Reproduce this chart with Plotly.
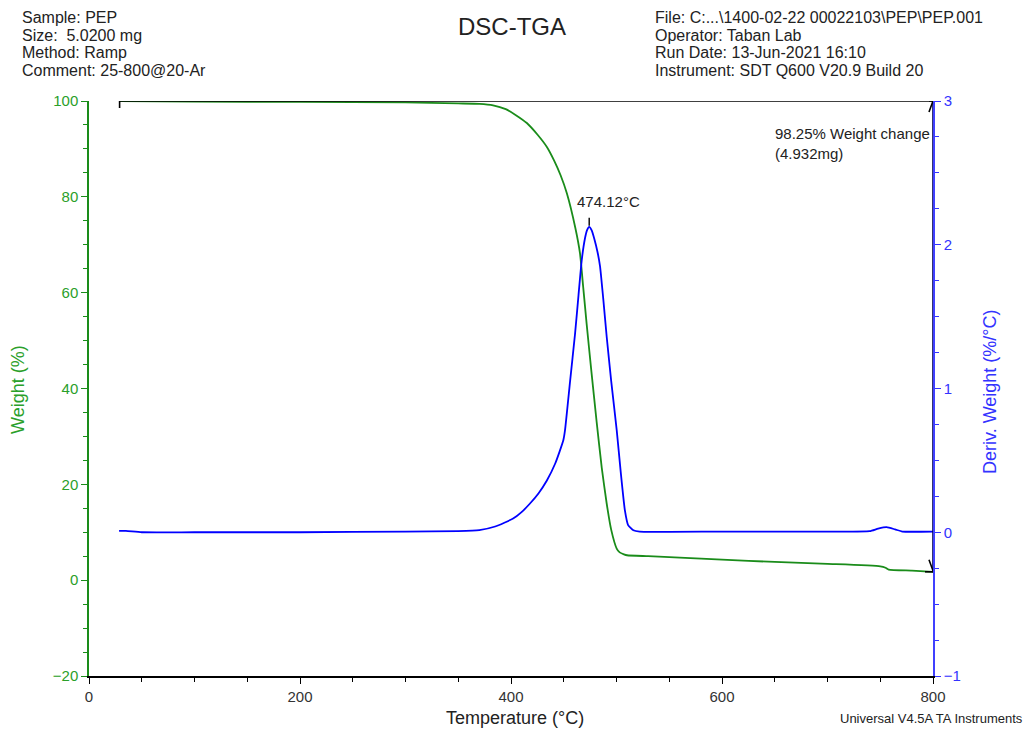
import plotly.graph_objects as go

# ---------------- data ----------------
temp_w = [29, 100, 200, 300, 350, 370, 383, 395, 405, 415, 425, 434, 441, 447, 453,
          461, 465.4, 468.5, 471.7, 476, 481.2, 486, 490.7, 495, 500.2, 503, 507,
          510, 530, 560, 600, 650, 700, 750, 755, 758, 780, 800]
weight = [100.0, 99.9, 99.8, 99.7, 99.5, 99.4, 99.1, 98.3, 97.0, 95.4, 93.0, 90.4,
          87.5, 84.5, 80.7, 73.5, 68.2, 61.0, 53.5, 44.0, 33.0, 23.5, 16.0, 10.5,
          6.6, 5.8, 5.4, 5.2, 5.0, 4.7, 4.3, 3.8, 3.4, 2.9, 2.6, 2.2, 2.0, 1.75]

temp_d = [28.5, 35, 50, 100, 200, 300, 350, 370, 385, 402, 410, 418, 426, 434, 442,
          449.6, 451.2, 456, 460.7, 464, 467, 470, 472, 474.12, 476.5, 479, 482,
          484.4, 487.5, 490.7, 495, 500.2, 504, 508, 511, 516, 522, 600, 700, 740,
          748, 756, 764, 771, 800]
deriv = [0.01, 0.01, 0.0, 0.0, 0.0, 0.005, 0.008, 0.015, 0.04, 0.095, 0.14, 0.2,
         0.27, 0.36, 0.48, 0.64, 0.71, 1.05, 1.38, 1.65, 1.89, 2.04, 2.10, 2.125,
         2.10, 2.04, 1.95, 1.85, 1.62, 1.36, 1.05, 0.71, 0.42, 0.15, 0.05, 0.014,
         0.005, 0.005, 0.005, 0.008, 0.025, 0.035, 0.02, 0.005, 0.005]

sample_mg = 5.02
x_ticks = [0, 200, 400, 600, 800]
y_ticks = [-20, 0, 20, 40, 60, 80, 100]
y2_ticks = [-1, 0, 1, 2, 3]

# ---------------- layout geometry ----------------
W, H = 1026, 729
L, R, T, B = 89, 933, 101, 676

def px(xp):
    return (xp - L) / (R - L)

def py(yp):
    return (B - yp) / (B - T)

GREEN = "#1a8c1a"
GREEN_TXT = "#2aa02a"
BLUE = "#0000ff"
BLUE_TXT = "#3333ff"
FONT = "Liberation Sans, Arial, sans-serif"

fig = go.Figure()
fig.add_trace(go.Scatter(x=temp_w, y=weight, mode="lines", yaxis="y",
                         line=dict(color=GREEN, width=1.8, shape="spline", smoothing=0.5),
                         hoverinfo="skip", showlegend=False))
fig.add_trace(go.Scatter(x=temp_d, y=deriv, mode="lines", yaxis="y2",
                         line=dict(color=BLUE, width=1.8, shape="spline", smoothing=0.5),
                         hoverinfo="skip", showlegend=False))

shapes = []
w0, w_end = weight[0], weight[-1]
t0, t_end = temp_w[0], x_ticks[-1]
black = dict(color="black", width=1.6)
# step line at initial weight
shapes.append(dict(type="line", xref="x", yref="y", x0=t0, x1=t_end, y0=w0, y1=w0, line=black))
# start tick
shapes.append(dict(type="path", xref="x", yref="y", xsizemode="pixel", ysizemode="pixel",
                   xanchor=t0, yanchor=w0, path="M0,6 L0,-7", line=black))
# vertical weight-change line
shapes.append(dict(type="line", xref="x", yref="y", x0=t_end, x1=t_end, y0=w0, y1=w_end,
                   line=dict(color="#000050", width=1.6)))
# top arrowhead + cross
shapes.append(dict(type="path", xref="x", yref="y", xsizemode="pixel", ysizemode="pixel",
                   xanchor=t_end, yanchor=w0, path="M-4,-11 L0,0 L4,-11", line=black))
shapes.append(dict(type="path", xref="x", yref="y", xsizemode="pixel", ysizemode="pixel",
                   xanchor=t_end, yanchor=w0, path="M0,6 L0,0 M-4,0 L5,0", line=black))
# bottom arrowhead + bar
shapes.append(dict(type="path", xref="x", yref="y", xsizemode="pixel", ysizemode="pixel",
                   xanchor=t_end, yanchor=w_end, path="M-4,12 L0,1 L4,12", line=black))
shapes.append(dict(type="path", xref="x", yref="y", xsizemode="pixel", ysizemode="pixel",
                   xanchor=t_end, yanchor=w_end, path="M-8,0 L9,0", line=black))
# peak tick
i_pk = deriv.index(max(deriv))
shapes.append(dict(type="path", xref="x", yref="y2", xsizemode="pixel", ysizemode="pixel",
                   xanchor=temp_d[i_pk], yanchor=deriv[i_pk], path="M0,1 L0,9",
                   line=dict(color="black", width=1.4)))

ann = []
hdr = dict(size=16, color="#222222", family=FONT)
left_lines = ["Sample: PEP", "Size:  %.4f mg" % sample_mg, "Method: Ramp", "Comment: 25-800@20-Ar"]
right_lines = ["File: C:...\\1400-02-22 00022103\\PEP\\PEP.001", "Operator: Taban Lab",
               "Run Date: 13-Jun-2021 16:10", "Instrument: SDT Q600 V20.9 Build 20"]
ys = [18, 35.5, 53, 70.5]
for txt, yy in zip(left_lines, ys):
    ann.append(dict(text=txt, xref="paper", yref="paper", x=px(20), y=py(yy),
                    xanchor="left", yanchor="middle", showarrow=False, font=hdr))
for txt, yy in zip(right_lines, ys):
    ann.append(dict(text=txt, xref="paper", yref="paper", x=px(653), y=py(yy),
                    xanchor="left", yanchor="middle", showarrow=False, font=hdr))
ann.append(dict(text="DSC-TGA", xref="paper", yref="paper", x=px(512), y=py(27),
                xanchor="center", yanchor="middle", showarrow=False,
                font=dict(size=24, color="#222222", family=FONT)))
# axis titles
ann.append(dict(text="Weight (%)", xref="paper", yref="paper", x=px(18), y=py(390),
                xanchor="center", yanchor="middle", textangle=-90, showarrow=False,
                font=dict(size=18, color=GREEN_TXT, family=FONT)))
ann.append(dict(text="Deriv. Weight (%/°C)", xref="paper", yref="paper", x=px(990), y=py(392),
                xanchor="center", yanchor="middle", textangle=-90, showarrow=False,
                font=dict(size=18, color=BLUE_TXT, family=FONT)))
ann.append(dict(text="Temperature (°C)", xref="paper", yref="paper", x=px(515), y=py(718),
                xanchor="center", yanchor="middle", showarrow=False,
                font=dict(size=18, color="#222222", family=FONT)))
ann.append(dict(text="Universal V4.5A TA Instruments", xref="paper", yref="paper",
                x=px(1025), y=py(718), xanchor="right", yanchor="middle", showarrow=False,
                font=dict(size=13, color="#222222", family=FONT)))
# weight change label
change = w0 - w_end
ann.append(dict(text="%.2f%% Weight change<br>(%.3fmg)" % (change, sample_mg * change / 100),
                xref="paper", yref="paper", x=px(773), y=py(143), xanchor="left",
                yanchor="middle", align="left", showarrow=False,
                font=dict(size=15, color="#222222", family=FONT)))
# peak label
ann.append(dict(text="%.2f°C" % temp_d[i_pk], xref="x", yref="y2", x=temp_d[i_pk],
                y=deriv[i_pk], xshift=19, yshift=25, xanchor="center", yanchor="middle",
                showarrow=False, font=dict(size=15, color="#222222", family=FONT)))

fig.update_layout(
    width=W, height=H,
    margin=dict(l=L, r=W - R, t=T, b=H - B, pad=0),
    paper_bgcolor="white", plot_bgcolor="white",
    font=dict(family=FONT),
    showlegend=False,
    xaxis=dict(range=[0, 800], tickvals=x_ticks, showgrid=False, zeroline=False,
               showline=True, linecolor="black", linewidth=1.5, ticks="outside",
               ticklen=6, tickcolor="black", tickwidth=1.2,
               minor=dict(dtick=50, ticks="outside", ticklen=4, tickcolor="black"),
               tickfont=dict(size=15, color="#333333", family=FONT)),
    yaxis=dict(range=[-20, 100], tickvals=y_ticks, showgrid=False, zeroline=False,
               showline=True, linecolor=GREEN, linewidth=1.5, ticks="outside",
               ticklen=6, tickcolor=GREEN, tickwidth=1.2,
               minor=dict(dtick=5, ticks="outside", ticklen=4, tickcolor=GREEN),
               tickfont=dict(size=15, color=GREEN_TXT, family=FONT)),
    yaxis2=dict(range=[-1, 3], tickvals=y2_ticks, overlaying="y", side="right",
                showgrid=False, zeroline=False, showline=True, linecolor="#4040ff",
                linewidth=1.5, ticks="outside", ticklen=6, tickcolor=BLUE_TXT, tickwidth=1.2,
                minor=dict(dtick=0.25, ticks="outside", ticklen=4, tickcolor=BLUE_TXT),
                tickfont=dict(size=15, color=BLUE_TXT, family=FONT)),
    shapes=shapes,
    annotations=ann,
)

fig.write_html("out.html", config={"displayModeBar": False},
               post_script="document.body.style.margin='0px';document.body.style.overflow='hidden';")
